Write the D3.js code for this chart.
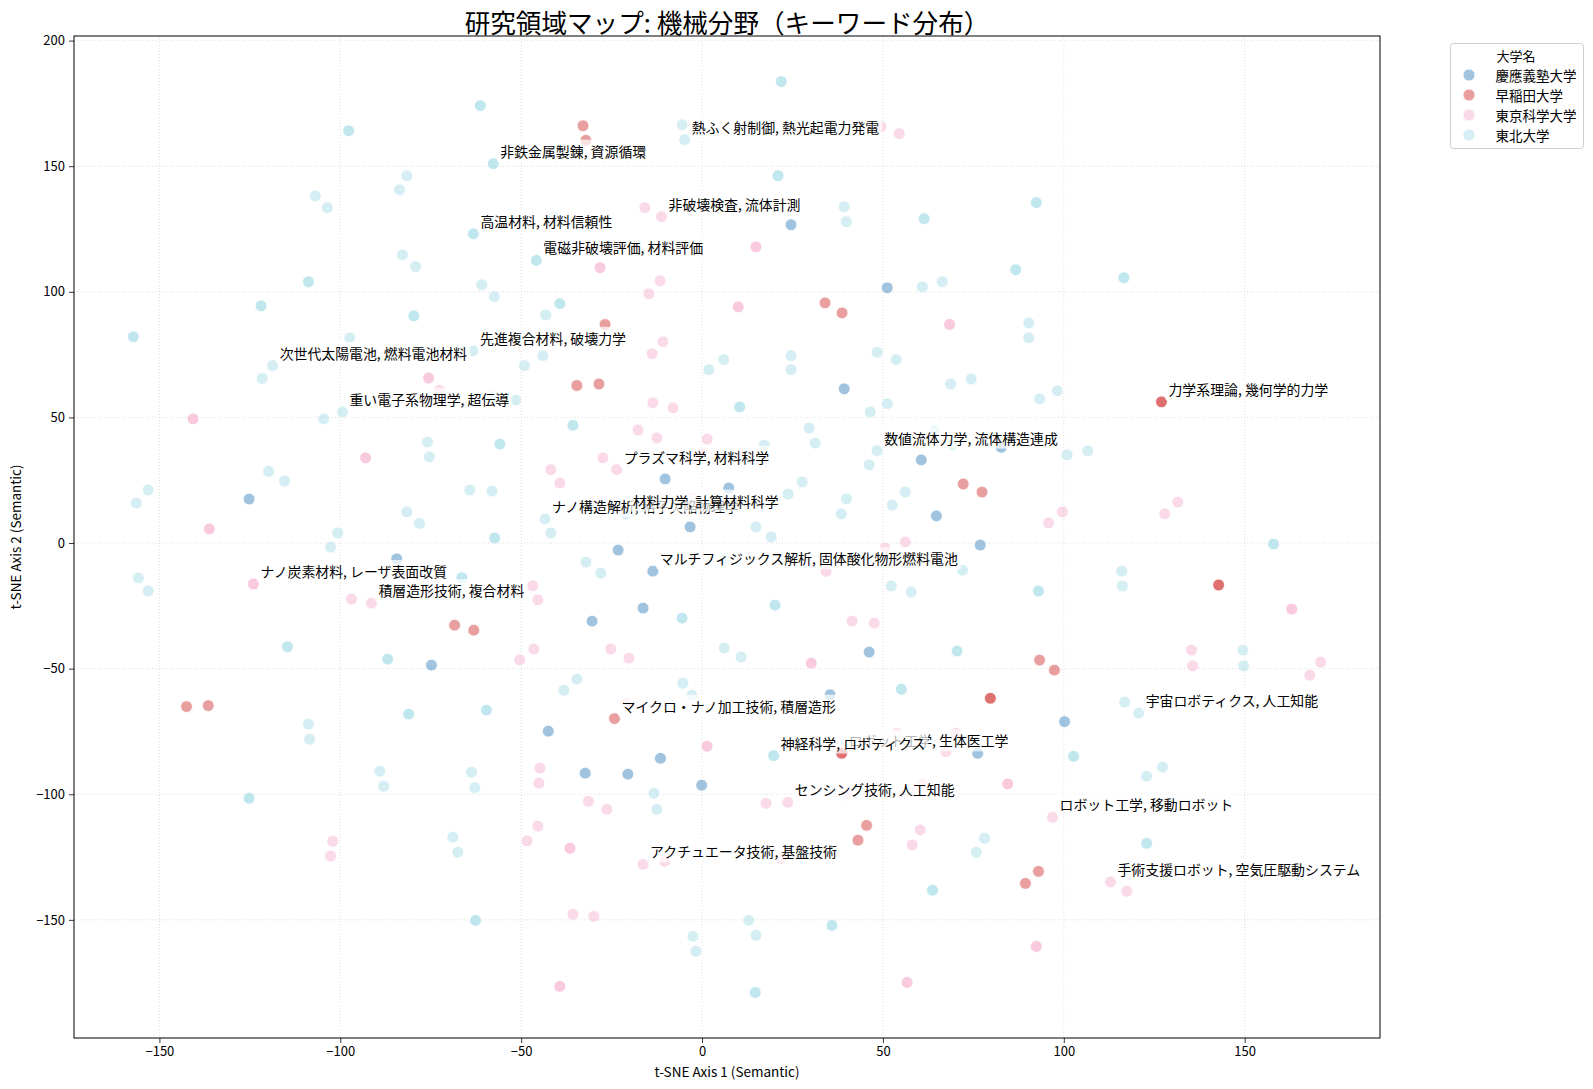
<!DOCTYPE html>
<html><head><meta charset="utf-8">
<script src="https://cdn.jsdelivr.net/npm/d3@7"></script>
<style>
body{margin:0;background:#fff;}
svg text{font-family:"Noto Sans CJK JP","Noto Sans",sans-serif;fill:#000;}
</style></head><body>
<svg id="chart" width="1593" height="1089"></svg>
<script>
// ---------- data ----------
const universities = ["慶應義塾大学", "早稲田大学", "東京科学大学", "東北大学"];
const uniColors = ["#4389c1", "#d54141", "#f7b7d3", "#addfe9"];
const legendTitle = "大学名";
const chartTitle = "研究領域マップ: 機械分野（キーワード分布）";
const xAxisLabel = "t-SNE Axis 1 (Semantic)";
const yAxisLabel = "t-SNE Axis 2 (Semantic)";
const xTicks = [-150, -100, -50, 0, 50, 100, 150];
const yTicks = [-150, -100, -50, 0, 50, 100, 150, 200];

// [x, y, number of overlapping researchers]
const keioPoints = [
  [24.6,126.7,1],[51.2,101.6,1],[39.3,61.4,1],[60.6,33.1,1],[82.7,38.1,1],[-10.2,25.5,1],
  [7.4,21.9,1],[-3.3,6.4,1],[64.8,10.8,1],[76.9,-0.8,1],[-125.2,17.5,1],[-84.4,-6.3,1],
  [-23.2,-2.8,1],[-13.6,-11.2,1],[-16.3,-25.9,1],[-30.4,-31.1,1],[-74.8,-48.6,1],[46.2,-43.4,1],
  [35.4,-60.4,1],[-42.5,-74.9,1],[-11.5,-85.7,1],[-32.3,-91.6,1],[-20.5,-92.0,1],[-0.1,-96.4,1],
  [76.2,-83.7,1],[100.2,-71.1,1]
];
const wasedaPoints = [
  [-32.9,166.1,1],[-32.1,160.3,1],[34.0,95.6,1],[38.7,91.6,1],[-26.8,87.0,1],[-34.6,62.7,1],
  [-28.5,63.3,1],[127.0,56.2,2],[72.2,23.5,1],[77.4,20.3,1],[-68.4,-32.7,1],[-63.1,-34.7,1],
  [142.8,-16.7,2],[93.3,-46.6,1],[97.4,-50.6,1],[79.7,-61.8,2],[-142.5,-65.1,1],[-136.5,-64.7,1],
  [-24.2,-69.9,1],[38.6,-83.7,2],[45.5,-112.4,1],[43.1,-118.3,1],[93.0,-130.7,1],[89.4,-135.5,1]
];
const tokyoPoints = [
  [49.5,165.7,1],[54.5,163.0,1],[-15.8,133.5,1],[-11.2,129.9,1],[14.9,117.9,2],[-28.2,109.6,2],
  [-11.6,104.4,1],[-14.7,99.2,1],[10.0,94.0,2],[68.4,87.0,2],[-10.8,80.1,1],[-13.8,75.4,1],
  [-29.4,81.7,1],[-75.6,65.7,2],[-72.6,60.8,1],[-13.6,55.8,1],[-8.0,53.8,1],[-140.7,49.4,2],
  [-17.7,45.0,1],[-12.5,41.8,1],[1.4,41.4,1],[0.0,35.9,1],[-93.0,33.9,2],[-27.4,33.9,1],
  [-23.6,29.2,1],[-41.8,29.2,1],[-39.3,23.9,1],[-2.9,17.9,1],[95.8,8.0,1],[99.6,12.4,1],
  [127.9,11.6,1],[131.5,16.3,1],[-136.2,5.6,2],[50.6,-2.0,1],[56.2,0.4,1],[-124.0,-16.3,2],
  [-96.9,-22.3,1],[-91.4,-23.9,1],[34.3,-11.3,1],[-46.8,-17.0,1],[-45.4,-22.6,1],[163.0,-26.3,2],
  [41.5,-31.1,1],[47.6,-31.9,1],[-46.5,-42.2,1],[-50.4,-46.5,1],[-25.2,-42.2,1],[-20.2,-45.8,1],
  [30.2,-47.8,2],[135.3,-42.6,1],[135.6,-48.9,1],[171.0,-47.4,1],[168.0,-52.6,1],[-21.1,-63.7,1],
  [1.4,-80.9,2],[53.9,-75.7,1],[70.2,-75.7,1],[67.4,-83.0,1],[-44.8,-89.6,1],[-45.1,-95.6,1],
  [-31.4,-102.8,1],[-26.3,-106.0,1],[17.7,-103.6,1],[23.7,-103.2,1],[39.9,-100.3,1],[61.0,-95.8,1],
  [84.5,-95.9,2],[-45.4,-112.7,1],[-48.4,-118.6,1],[-36.5,-121.5,2],[60.3,-114.2,1],[58.1,-120.2,1],
  [-16.3,-127.9,1],[-10.3,-126.7,1],[21.8,-125.5,1],[96.9,-109.2,1],[112.9,-134.9,1],[117.4,-138.6,1],
  [-102.1,-118.7,1],[-102.7,-124.6,1],[-35.7,-147.8,1],[-29.9,-148.6,1],[-39.3,-176.5,2],[56.7,-174.9,2],
  [92.4,-160.6,2]
];
const tohokuPoints = [
  [-61.3,174.1,2],[-97.7,164.1,2],[-57.7,151.0,2],[-81.6,146.2,1],[-83.6,140.6,1],[-106.9,138.2,1],
  [-103.6,133.5,1],[-63.2,123.1,2],[-82.8,114.7,1],[-79.2,110.0,1],[-108.8,104.0,2],[-60.9,102.8,1],
  [-57.4,98.1,1],[-121.9,94.4,2],[-79.7,90.4,2],[-157.2,82.1,2],[-97.4,81.7,1],[-63.3,76.5,1],
  [-118.7,70.6,1],[-121.6,65.5,1],[-49.1,70.6,1],[-57.6,58.4,1],[-51.5,56.9,1],
  [21.9,183.7,2],[-5.5,166.5,1],[-4.8,160.6,1],[21.0,146.2,2],[-41.0,130.1,1],[39.3,133.9,1],
  [39.9,127.9,1],[61.4,129.1,2],[-45.8,112.5,2],[60.9,102.0,1],[66.4,104.0,1],[-39.3,95.3,2],
  [-43.2,90.8,1],[-44.0,74.6,1],[1.9,69.0,1],[6.0,73.0,1],[24.6,74.6,1],[24.6,69.0,1],
  [48.4,75.9,1],[53.7,73.0,1],
  [92.4,135.5,2],[86.7,108.8,2],[116.6,105.6,2],[90.3,87.6,1],[90.3,81.7,1],[74.4,65.3,1],
  [68.7,63.3,1],[93.3,57.4,1],[98.2,60.6,1],
  [-104.6,49.4,1],[-99.4,52.2,1],[-75.9,40.2,1],[-75.4,34.3,1],[-55.9,39.4,2],[-119.8,28.5,1],
  [-115.4,24.7,1],[-156.4,15.9,1],[-153.1,21.1,1],[-64.2,21.1,1],[-58.1,20.7,1],[-81.6,12.4,1],
  [-78.1,7.8,1],[-57.3,2.0,2],[-100.7,4.0,1],[-102.7,-1.6,1],[-155.8,-13.9,1],[-153.1,-19.1,1],
  [-66.4,-13.8,2],[-114.6,-41.3,2],[-86.9,-46.2,2],
  [10.4,54.2,2],[51.2,55.5,1],[46.5,52.2,1],[-35.7,46.9,2],[29.6,45.8,1],[31.3,39.8,1],
  [17.2,38.9,1],[48.4,36.8,1],[46.2,31.1,1],[27.7,24.3,1],[23.8,19.5,1],[39.9,17.6,1],
  [56.2,20.3,1],[52.6,15.1,1],[38.5,11.6,1],[-21.1,11.7,1],[-43.4,9.6,1],[-41.8,4.0,1],
  [14.9,6.4,1],[19.1,2.4,1],[-32.1,-7.6,1],[-28.0,-12.0,1],[6.3,-6.1,1],[52.3,-17.1,1],
  [57.8,-19.5,1],[-5.5,-29.9,2],[20.2,-24.7,2],[6.1,-41.8,1],[10.8,-45.4,1],[-34.6,-54.2,1],
  [-38.2,-58.6,1],[-5.3,-55.8,1],[-2.8,-60.6,1],[55.1,-58.2,2],
  [64.2,44.5,1],[69.2,39.2,1],[100.9,35.1,1],[106.6,36.7,1],[158.0,-0.4,2],[72.0,-10.8,1],
  [116.0,-11.2,1],[116.2,-17.1,1],[93.0,-19.1,2],[70.5,-43.0,2],[149.5,-42.6,1],[149.7,-48.9,1],
  [116.8,-63.3,1],[120.7,-67.7,1],
  [-108.8,-72.1,1],[-108.5,-78.1,1],[-81.1,-68.1,2],[-59.6,-66.5,2],[-89.1,-90.8,1],[-88.0,-96.8,1],
  [-63.7,-91.2,1],[-62.8,-97.4,1],[-125.2,-101.6,2],[-68.9,-117.1,1],[-67.5,-123.1,1],[-62.6,-150.2,2],
  [19.8,-84.6,2],[-13.3,-99.6,1],[-12.5,-106.0,1],[63.7,-138.2,2],[12.9,-150.2,1],[14.9,-156.2,1],
  [-2.5,-156.6,1],[-1.7,-162.5,1],[35.9,-152.2,2],[14.7,-178.9,2],
  [102.7,-84.9,2],[127.3,-89.2,1],[122.9,-92.8,1],[78.1,-117.5,1],[75.8,-123.1,1],[122.9,-119.5,2]
];
const seriesPoints = [keioPoints, wasedaPoints, tokyoPoints, tohokuPoints];

// annotated researchers: [text, x, y] (drawn in this order)
const annotations = [
  ["熱ふく射制御, 熱光起電力発電", -4.8, 160.6],
  ["非鉄金属製錬, 資源循環", -57.7, 151.0],
  ["高温材料, 材料信頼性", -63.2, 123.1],
  ["非破壊検査, 流体計測", -11.2, 129.9],
  ["電磁非破壊評価, 材料評価", -45.8, 112.5],
  ["先進複合材料, 破壊力学", -63.3, 76.5],
  ["次世代太陽電池, 燃料電池材料", -118.7, 70.6],
  ["重い電子系物理学, 超伝導", -99.4, 52.2],
  ["力学系理論, 幾何学的力学", 127.0, 56.2],
  ["数値流体力学, 流体構造連成", 48.4, 36.8],
  ["プラズマ科学, 材料科学", -23.6, 29.2],
  ["ナノ構造解析, 格子欠陥物理学", -43.4, 9.6],
  ["材料力学, 計算材料科学", -21.1, 11.7],
  ["マルチフィジックス解析, 固体酸化物形燃料電池", -13.6, -11.2],
  ["ナノ炭素材料, レーザ表面改質", -124.0, -16.3],
  ["積層造形技術, 複合材料", -91.4, -23.9],
  ["マイクロ・ナノ加工技術, 積層造形", -24.2, -69.9],
  ["ロボット工学, 生体医工学", 38.6, -83.7],
  ["神経科学, ロボティクス", 19.8, -84.6],
  ["センシング技術, 人工知能", 23.7, -103.2],
  ["アクチュエータ技術, 基盤技術", -16.3, -127.9],
  ["宇宙ロボティクス, 人工知能", 120.7, -67.7],
  ["ロボット工学, 移動ロボット", 96.9, -109.2],
  ["手術支援ロボット, 空気圧駆動システム", 112.9, -134.9]
];

// ---------- layout ----------
const svg = d3.select("#chart");
const plot = {left: 74, right: 1380, top: 36, bottom: 1038};
const alpha = 0.5;

const allPts = seriesPoints.flat();
const xExt = d3.extent(allPts, d => d[0]);
const yExt = d3.extent(allPts, d => d[1]);
const xPad = (xExt[1] - xExt[0]) * 0.05, yPad = (yExt[1] - yExt[0]) * 0.05;
const x = d3.scaleLinear().domain([xExt[0] - xPad, xExt[1] + xPad]).range([plot.left, plot.right]);
const y = d3.scaleLinear().domain([yExt[0] - yPad, yExt[1] + yPad]).range([plot.bottom, plot.top]);

svg.append("rect").attr("width", 1593).attr("height", 1089).attr("fill", "#fff");

// grid
const grid = svg.append("g").attr("stroke", "#d6d6d6").attr("stroke-width", 0.8).attr("stroke-dasharray", "1,2");
grid.selectAll("line.vx").data(xTicks).join("line")
  .attr("x1", d => x(d)).attr("x2", d => x(d)).attr("y1", plot.top).attr("y2", plot.bottom);
grid.selectAll("line.hy").data(yTicks).join("line")
  .attr("y1", d => y(d)).attr("y2", d => y(d)).attr("x1", plot.left).attr("x2", plot.right);

// points
const ptsG = svg.append("g");
seriesPoints.forEach((pts, i) => {
  ptsG.append("g").selectAll("circle").data(pts).join("circle")
    .attr("cx", d => x(d[0])).attr("cy", d => y(d[1])).attr("r", 5.9)
    .attr("fill", uniColors[i])
    .attr("stroke", "#fff").attr("stroke-width", 0.8)
    .attr("opacity", d => 1 - Math.pow(1 - alpha, d[2]));
});

// annotations
const annG = svg.append("g");
annotations.forEach(a => {
  const g = annG.append("g");
  const t = g.append("text")
    .attr("x", x(a[1]) + 7).attr("y", y(a[2]) - 7)
    .attr("font-size", "13.9px").text(a[0]);
  const bb = t.node().getBBox();
  g.insert("rect", "text")
    .attr("x", bb.x - 3).attr("y", bb.y - 1).attr("width", bb.width + 6).attr("height", bb.height + 2)
    .attr("fill", "#fff").attr("fill-opacity", 0.7);
});

// axes
const xAxis = d3.axisBottom(x).tickValues(xTicks).tickSizeInner(5).tickSizeOuter(0).tickPadding(4);
const yAxis = d3.axisLeft(y).tickValues(yTicks).tickSizeInner(5).tickSizeOuter(0).tickPadding(4);
const gx = svg.append("g").attr("transform", `translate(0,${plot.bottom})`).call(xAxis);
const gy = svg.append("g").attr("transform", `translate(${plot.left},0)`).call(yAxis);
[gx, gy].forEach(g => {
  g.select(".domain").remove();
  g.selectAll("text").attr("font-size", "13px").attr("font-family", '"Noto Sans CJK JP", sans-serif').attr("fill", "#000");
  g.selectAll("line").attr("stroke", "#000").attr("stroke-width", 0.8);
});

// frame
svg.append("rect").attr("x", plot.left).attr("y", plot.top)
  .attr("width", plot.right - plot.left).attr("height", plot.bottom - plot.top)
  .attr("fill", "none").attr("stroke", "#000").attr("stroke-width", 1);

// labels
svg.append("text").attr("x", (plot.left + plot.right) / 2).attr("y", 1071)
  .attr("text-anchor", "middle").attr("dominant-baseline", "central")
  .attr("font-size", "13.5px").text(xAxisLabel);
svg.append("text").attr("transform", `translate(15,${(plot.top + plot.bottom) / 2}) rotate(-90)`)
  .attr("text-anchor", "middle").attr("dominant-baseline", "central")
  .attr("font-size", "13.5px").text(yAxisLabel);
svg.append("text").attr("x", (plot.left + plot.right) / 2).attr("y", 21)
  .attr("text-anchor", "middle").attr("dominant-baseline", "central")
  .attr("font-size", "25.6px").text(chartTitle);

// legend
const lg = svg.append("g");
lg.append("rect").attr("x", 1450.5).attr("y", 43.5).attr("width", 133).attr("height", 105)
  .attr("rx", 3).attr("fill", "#fff").attr("fill-opacity", 0.8).attr("stroke", "#cfcfcf").attr("stroke-width", 1);
lg.append("text").attr("x", 1516).attr("y", 55).attr("text-anchor", "middle")
  .attr("dominant-baseline", "central").attr("font-size", "13px").text(legendTitle);
const items = lg.selectAll("g.item").data(universities).join("g")
  .attr("transform", (d, i) => `translate(0,${75 + i * 20})`);
items.append("circle").attr("cx", 1469).attr("cy", 0).attr("r", 6)
  .attr("fill", (d, i) => uniColors[i]).attr("opacity", alpha).attr("stroke", "#fff").attr("stroke-width", 0.8);
items.append("text").attr("x", 1495.5).attr("y", 0).attr("dominant-baseline", "central")
  .attr("font-size", "13.5px").text(d => d);
</script>
</body></html>
